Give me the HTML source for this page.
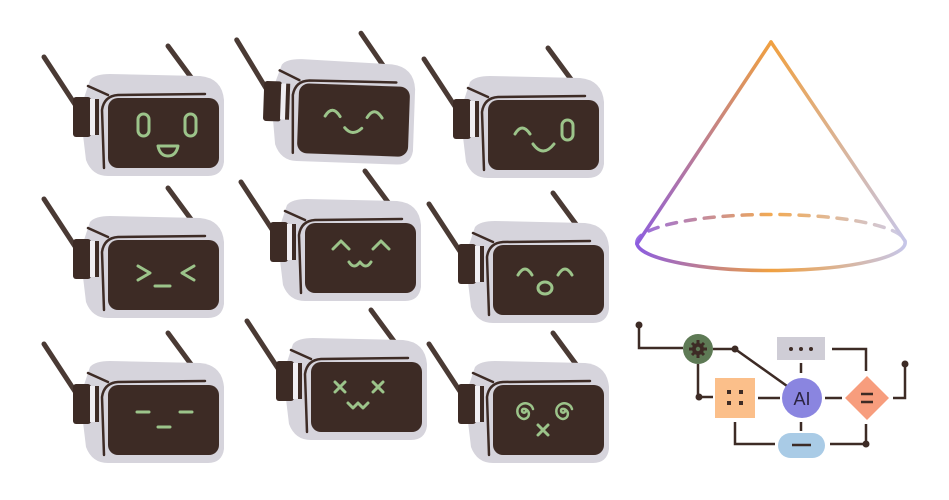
<!DOCTYPE html>
<html><head><meta charset="utf-8"><style>html,body{margin:0;padding:0;background:#fff}svg{display:block}</style></head>
<body>
<svg width="949" height="500" viewBox="0 0 949 500" xmlns="http://www.w3.org/2000/svg">
<defs>
<g id="rb">
 <line x1="44" y1="57" x2="80" y2="112" stroke="#4a3a34" stroke-width="5" stroke-linecap="round"/>
 <line x1="168" y1="46" x2="196" y2="84" stroke="#4a3a34" stroke-width="5" stroke-linecap="round"/>
 <path d="M90 80 Q95 74 110 74 L200 76 Q222 78 224 100 L224 162 Q222 176 208 176 L108 176 Q92 176 86 160 L80 110 Z" fill="#d6d4dc" stroke="none"/>
 <path d="M88 86 L108 95" stroke="#3d2b25" stroke-width="2.5" stroke-linecap="round" fill="none"/>
 <path d="M104 168 L102 110 Q104 96 118 95 L205 94" stroke="#3d2b25" stroke-width="2.5" fill="none" stroke-linecap="round"/>
 <rect x="73" y="97" width="18" height="40" rx="3" fill="#3d2b25" stroke="none"/>
 <rect x="90" y="99" width="6" height="36" fill="#f0eef2" stroke="none"/>
 <rect x="95" y="99" width="4" height="36" fill="#3d2b25" stroke="none"/>
 <rect x="108" y="98" width="111" height="70" rx="10" fill="#3d2b25" stroke="none"/>
</g>
</defs>
<g fill="none" stroke="#9cc48a" stroke-width="3" stroke-linecap="round" stroke-linejoin="round">
<g><use href="#rb"/>
 <rect x="138" y="114" width="11" height="22" rx="5.5"/><rect x="185" y="114" width="11" height="22" rx="5.5"/>
 <path d="M158 146 L178 146 Q176 156 168 156 Q160 156 158 146 Z"/></g>
<g transform="translate(190,-13) rotate(2 163 133)"><use href="#rb"/>
 <path d="M135 130 Q142 118 150 130"/><path d="M177 130 Q184 118 192 130"/>
 <path d="M155 141 Q163 150 172 141"/></g>
<g transform="translate(380,2)"><use href="#rb"/>
 <path d="M135 132 Q142 120 150 132"/><rect x="182" y="118" width="11" height="20" rx="5.5"/>
 <path d="M153 142 Q163 156 174 142"/></g>
<g transform="translate(0,142)"><use href="#rb"/>
 <path d="M138 124 L150 131 L138 138"/><path d="M155 144 L170 144"/><path d="M194 124 L182 131 L194 138"/></g>
<g transform="translate(197,125)"><use href="#rb"/>
 <path d="M136 124 L144 116 L152 124"/><path d="M176 124 L184 116 L192 124"/>
 <path d="M152 137 Q157 145 163 137 Q169 145 174 137"/></g>
<g transform="translate(385,147)"><use href="#rb"/>
 <path d="M133 128 Q140 116 147 128"/><path d="M173 128 Q180 116 187 128"/>
 <ellipse cx="160" cy="141" rx="7" ry="6"/></g>
<g transform="translate(0,287)"><use href="#rb"/>
 <path d="M137 125 L149 125"/><path d="M158 140 L170 140"/><path d="M180 125 L192 125"/></g>
<g transform="translate(203,264)"><use href="#rb"/>
 <path d="M132 118 L142 128 M142 118 L132 128"/><path d="M170 118 L180 128 M180 118 L170 128"/>
 <path d="M145 139 L150 144 L155 139 L160 144 L165 139"/></g>
<g transform="translate(385,287)"><use href="#rb"/>
 <path d="M141 124 a2 2 0 1 1 -3 -2 a5 5 0 1 1 -2 9 a8 8 0 1 1 12 -9" stroke-width="2.5"/>
 <path d="M180 124 a2 2 0 1 1 -3 -2 a5 5 0 1 1 -2 9 a8 8 0 1 1 12 -9" stroke-width="2.5"/>
 <path d="M153 138 L163 148 M163 138 L153 148"/></g>
</g>
<defs>
<linearGradient id="cg" x1="637" y1="0" x2="905" y2="0" gradientUnits="userSpaceOnUse">
<stop offset="0" stop-color="#8c5de0"/><stop offset="0.5" stop-color="#f0a040"/><stop offset="1" stop-color="#c6c6e8"/></linearGradient>
<linearGradient id="cl" x1="637" y1="250" x2="771" y2="42" gradientUnits="userSpaceOnUse">
<stop offset="0" stop-color="#8c5de0"/><stop offset="1" stop-color="#f0a040"/></linearGradient>
<linearGradient id="cr" x1="771" y1="42" x2="905" y2="242" gradientUnits="userSpaceOnUse">
<stop offset="0" stop-color="#f0a040"/><stop offset="1" stop-color="#c6c6e8"/></linearGradient>
</defs>
<g fill="none" stroke-width="3.5" stroke-linecap="round">
<path d="M637 244 L771 42" stroke="url(#cl)"/>
<path d="M771 42 L905 241" stroke="url(#cr)"/>
<path d="M637 244 A134 28 0 0 0 905 241" stroke="url(#cg)"/>
<path d="M637 244 A134 28 0 0 1 905 241" stroke="url(#cg)" stroke-dasharray="10 9" opacity="0.9"/>
</g>
<g stroke="#3d2b25" stroke-width="2.5" fill="none">
<path d="M639 325 V348 H683"/>
<path d="M713 349 H735 L787 386"/>
<path d="M698 364 V397 H713"/>
<path d="M758 398 H780"/>
<path d="M825 398 H842"/>
<path d="M893 398 H905 V365"/>
<path d="M832 349 H866 V371"/>
<path d="M801 363 V373"/>
<path d="M801 422 V431"/>
<path d="M735 422 V444 H775"/>
<path d="M830 444 H866 V424"/>
</g>
<g fill="#3d2b25">
<circle cx="639" cy="325" r="3.5"/><circle cx="735" cy="349" r="3.5"/><circle cx="699" cy="397" r="3.5"/>
<circle cx="866" cy="444" r="3.5"/><circle cx="905" cy="364" r="3.5"/>
</g>
<circle cx="698" cy="349" r="15" fill="#5e7a55"/>
<g fill="#3d2b25"><circle cx="698" cy="349" r="6"/>
<g stroke="#3d2b25" stroke-width="3"><path d="M698 340 V358 M689 349 H707 M692 343 L704 355 M704 343 L692 355"/></g></g>
<circle cx="698" cy="349" r="2.2" fill="#5e7a55"/>
<rect x="777" y="337" width="48" height="23" fill="#cfcdd6"/>
<g fill="#3d2b25"><circle cx="791" cy="349" r="2"/><circle cx="801" cy="349" r="2"/><circle cx="811" cy="349" r="2"/></g>
<rect x="715" y="378" width="40" height="40" fill="#fbbf8a"/>
<g fill="#3d2b25"><rect x="727" y="390" width="4" height="4"/><rect x="739" y="390" width="4" height="4"/><rect x="727" y="401" width="4" height="4"/><rect x="739" y="401" width="4" height="4"/></g>
<circle cx="802" cy="398" r="20" fill="#8a85e0"/>
<text x="802" y="405" text-anchor="middle" font-family="Liberation Sans, sans-serif" font-size="18" fill="#2b2340">AI</text>
<path d="M867 376 L889 398 L867 420 L845 398 Z" fill="#f79d7d"/>
<path d="M861 394 H873 M861 402 H873" stroke="#3d2b25" stroke-width="2.5"/>
<rect x="778" y="433" width="47" height="25" rx="12.5" fill="#a9cbe6"/>
<path d="M792 445 H811" stroke="#3d2b25" stroke-width="2.5"/>
</svg>
</body></html>
